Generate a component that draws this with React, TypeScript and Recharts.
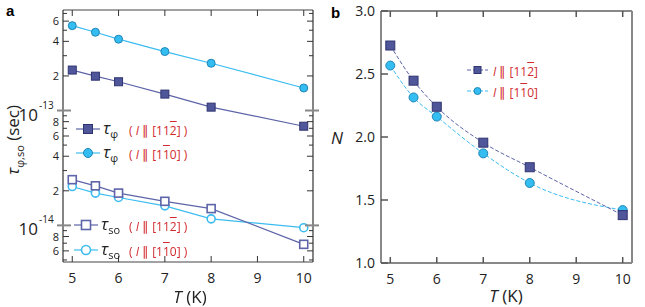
import { LineChart, Line, XAxis, YAxis } from 'recharts'

const T = [5, 5.5, 6, 7, 8, 10]
const tauPhi112 = [2.25e-13, 1.99e-13, 1.78e-13, 1.39e-13, 1.07e-13, 7.3e-14]
const tauPhi110 = [5.48e-13, 4.8e-13, 4.18e-13, 3.26e-13, 2.58e-13, 1.57e-13]
const tauSo112 = [2.5e-14, 2.21e-14, 1.91e-14, 1.62e-14, 1.4e-14, 6.84e-15]
const tauSo110 = [2.18e-14, 1.91e-14, 1.75e-14, 1.48e-14, 1.14e-14, 9.55e-15]
const n112 = [2.726, 2.447, 2.24, 1.955, 1.76, 1.38]
const n110 = [2.567, 2.314, 2.162, 1.87, 1.635, 1.42]

const tTicks = [5, 6, 7, 8, 9, 10]
const nTicks = [1.0, 1.5, 2.0, 2.5, 3.0]
const logTicks = [
  5e-15, 6e-15, 7e-15, 8e-15, 9e-15,
  1e-14, 2e-14, 3e-14, 4e-14, 5e-14, 6e-14, 7e-14, 8e-14, 9e-14,
  1e-13, 2e-13, 3e-13, 4e-13, 5e-13, 6e-13, 7e-13,
]
const labelledMantissas = [2, 4, 6, 8]

const dataA = T.map((t, i) => ({
  t, phi112: tauPhi112[i], phi110: tauPhi110[i], so112: tauSo112[i], so110: tauSo110[i],
}))
const dataB = T.map((t, i) => ({ t, n112: n112[i], n110: n110[i] }))

const DARK = '#4f5699'
const DARK_EDGE = '#2f3470'
const DARK_LINE = '#5d64a8'
const LIGHT = '#34bdf0'
const LIGHT_EDGE = '#1f86b8'
const LIGHT_LINE = '#3cbcf0'
const RED = '#d22a2e'
const FONT = "'Liberation Sans Narrow', 'Open Sans', Arial, sans-serif"

const squareDot = (size: number, fill: string, stroke: string, sw = 1) => (p: any) => (
  <rect key={p.index} x={p.cx - size / 2} y={p.cy - size / 2} width={size} height={size}
    fill={fill} stroke={stroke} strokeWidth={sw} />
)
const circleDot = (r: number, fill: string, stroke: string, sw = 1) => (p: any) => (
  <circle key={p.index} cx={p.cx} cy={p.cy} r={r} fill={fill} stroke={stroke} strokeWidth={sw} />
)

function mantissa(v: number) {
  const e = Math.floor(Math.log10(v) + 1e-9)
  return { m: Math.round(v / Math.pow(10, e)), e }
}

// log axis ticks: inward minor ticks, long decade ticks, sparse labels
function LogTickLeft(props: any) {
  const { x, y, payload } = props
  const ax = x + 6
  const { m, e } = mantissa(payload.value)
  if (m === 1) {
    return (
      <g>
        <line x1={ax - 6} x2={ax + 8} y1={y} y2={y} stroke="#888" strokeWidth={2} />
        <text x={ax - 25} y={y + 10} textAnchor="end" fontSize={17} fontFamily={FONT} fill="#222">
          10
        </text>
        <text x={ax - 24} y={y - 2} textAnchor="start" fontSize={10} fontFamily={FONT} fill="#222">
          {e}
        </text>
      </g>
    )
  }
  const lab = labelledMantissas.includes(m)
  return (
    <g>
      <line x1={ax} x2={ax + (lab ? 6 : 4)} y1={y} y2={y} stroke="#333" strokeWidth={1} />
      {lab && (
        <text x={ax - 4} y={y + 4} textAnchor="end" fontSize={11} fontFamily={FONT} fill="#222">
          {m}
        </text>
      )}
    </g>
  )
}

function LogTickRight(props: any) {
  const { x, y, payload } = props
  const ax = x - 6
  const { m } = mantissa(payload.value)
  if (m === 1) {
    return <line x1={ax - 8} x2={ax + 6} y1={y} y2={y} stroke="#888" strokeWidth={2} />
  }
  const lab = labelledMantissas.includes(m)
  return <line x1={ax} x2={ax - (lab ? 6 : 4)} y1={y} y2={y} stroke="#333" strokeWidth={1} />
}

function BottomTick(props: any) {
  const { x, y, payload } = props
  const ay = y - 6
  return (
    <g>
      <line x1={x} x2={x} y1={ay} y2={ay - 6} stroke={props.tickColor || '#333'} strokeWidth={props.tw || 1} />
      <text x={x} y={ay + 21} textAnchor="middle" fontSize={14} fontFamily={FONT} fill="#222">
        {payload.value}
      </text>
    </g>
  )
}

function TopTick(props: any) {
  const { x, y } = props
  const ay = y + 6
  return <line x1={x} x2={x} y1={ay} y2={ay + 6} stroke={props.tickColor || '#333'} strokeWidth={props.tw || 1} />
}

function NTickLeft(props: any) {
  const { x, y, payload } = props
  const ax = x + 6
  return (
    <g>
      <line x1={ax} x2={ax + 7} y1={y} y2={y} stroke="#555" strokeWidth={1.5} />
      <text x={ax - 6} y={y + 5} textAnchor="end" fontSize={14} fontFamily={FONT} fill="#222">
        {payload.value.toFixed(1)}
      </text>
    </g>
  )
}

function NTickRight(props: any) {
  const { x, y } = props
  const ax = x - 6
  return <line x1={ax} x2={ax - 7} y1={y} y2={y} stroke="#555" strokeWidth={1.5} />
}

const Bar2 = () => <span style={{ textDecoration: 'overline' }}>2</span>
const Bar1 = () => <span style={{ textDecoration: 'overline' }}>1</span>

function Direction({ kind, paren }: { kind: '112' | '110'; paren: boolean }) {
  return (
    <span style={{ color: RED, fontFamily: FONT, fontSize: 12, whiteSpace: 'nowrap' }}>
      {paren ? '( ' : ''}
      <i>I</i> <span style={{ fontSize: 13 }}>∥</span> [{kind === '112' ? <>11<Bar2 /></> : <>1<Bar1 />0</>}]
      {paren ? ' )' : ''}
    </span>
  )
}

function LegendRow(props: {
  left: number; top: number; lineW: number; color: string; marker: React.ReactNode;
  sub?: string; kind: '112' | '110'; paren: boolean; dashed?: boolean; gap: number
}) {
  const { left, top, lineW, color, marker, sub, kind, paren, dashed, gap } = props
  return (
    <div style={{ position: 'absolute', left, top: top - 11, height: 22, display: 'flex', alignItems: 'center' }}>
      <svg width={lineW} height={22} style={{ display: 'block' }}>
        <line x1={0} x2={lineW} y1={11} y2={11} stroke={color} strokeWidth={1.2}
          strokeDasharray={dashed ? '4 2' : undefined} />
        <g transform={`translate(${lineW / 2}, 11)`}>{marker}</g>
      </svg>
      {sub && (
        <span style={{ fontFamily: FONT, fontSize: 17, fontStyle: 'italic', marginLeft: 3, color: '#222', width: 22 }}>
          τ<sub style={{ fontSize: 11, fontStyle: 'normal' }}>{sub}</sub>
        </span>
      )}
      <span style={{ marginLeft: gap }}>
        <Direction kind={kind} paren={paren} />
      </span>
    </div>
  )
}

export default function App() {
  return (
    <div style={{ position: 'fixed', left: 0, top: 0, width: 645, height: 307, background: '#fff', fontFamily: FONT }}>
      {/* panel a */}
      <div style={{ position: 'absolute', left: 0, top: 0 }}>
        <LineChart width={330} height={307} data={dataA} margin={{ top: 9, right: 16, left: 13, bottom: 15 }}>
          <XAxis dataKey="t" type="number" domain={[4.8, 10.2]} ticks={tTicks} height={30}
            axisLine={{ stroke: '#444', strokeWidth: 1.2 }} tickLine={false} tickSize={0} tickMargin={6}
            tick={<BottomTick />} allowDataOverflow />
          <XAxis xAxisId="top" orientation="top" dataKey="t" type="number" domain={[4.8, 10.2]} ticks={tTicks}
            height={1} axisLine={{ stroke: '#444', strokeWidth: 1.2 }} tickLine={false} tickSize={0}
            tickMargin={6} tick={<TopTick />} allowDataOverflow />
          <YAxis type="number" scale="log" domain={[4.8e-15, 7.5e-13]} ticks={logTicks} width={50}
            axisLine={{ stroke: '#333', strokeWidth: 1.2 }} tickLine={false} tickSize={0} tickMargin={6}
            tick={<LogTickLeft />} interval={0} allowDataOverflow />
          <YAxis yAxisId="r" orientation="right" type="number" scale="log" domain={[4.8e-15, 7.5e-13]}
            ticks={logTicks} width={1} axisLine={{ stroke: '#333', strokeWidth: 1.2 }} tickLine={false}
            tickSize={0} tickMargin={6} tick={<LogTickRight />} interval={0} allowDataOverflow />
          <Line dataKey="phi110" stroke={LIGHT_LINE} strokeWidth={1.2} isAnimationActive={false}
            dot={circleDot(4, LIGHT, LIGHT_EDGE)} />
          <Line dataKey="phi112" stroke={DARK_LINE} strokeWidth={1.2} isAnimationActive={false}
            dot={squareDot(8, DARK, DARK_EDGE)} />
          <Line dataKey="so110" stroke={LIGHT_LINE} strokeWidth={1.2} isAnimationActive={false}
            dot={circleDot(4, '#fff', LIGHT_LINE, 1.6)} />
          <Line dataKey="so112" stroke={DARK_LINE} strokeWidth={1.2} isAnimationActive={false}
            dot={squareDot(8, '#fff', DARK_LINE, 1.6)} />
        </LineChart>
      </div>
      <div style={{ position: 'absolute', left: 6, top: 2, fontSize: 15, fontWeight: 'bold', fontFamily: 'Arial, sans-serif' }}>a</div>
      <div style={{
        position: 'absolute', left: 14, top: 140, transform: 'translate(-50%, -50%) rotate(-90deg)',
        whiteSpace: 'nowrap', fontSize: 17, color: '#222',
      }}>
        <i>τ</i><sub style={{ fontSize: 11 }}>φ,so</sub> (sec)
      </div>
      <div style={{ position: 'absolute', left: 190, top: 296, transform: 'translate(-50%, -50%)', fontSize: 17, whiteSpace: 'nowrap', color: '#222' }}>
        <i>T</i> (K)
      </div>
      <LegendRow left={76} top={129} lineW={24} color={DARK_LINE}
        marker={<rect x={-4.5} y={-4.5} width={9} height={9} fill={DARK} stroke={DARK_EDGE} />}
        sub="φ" kind="112" paren gap={4} />
      <LegendRow left={76} top={153} lineW={24} color={LIGHT_LINE}
        marker={<circle r={4.5} fill={LIGHT} stroke={LIGHT_EDGE} />}
        sub="φ" kind="110" paren gap={4} />
      <LegendRow left={74} top={225} lineW={24} color={DARK_LINE}
        marker={<rect x={-4.5} y={-4.5} width={9} height={9} fill="#fff" stroke={DARK_LINE} strokeWidth={1.6} />}
        sub="so" kind="112" paren gap={6} />
      <LegendRow left={74} top={250} lineW={24} color={LIGHT_LINE}
        marker={<circle r={4.5} fill="#fff" stroke={LIGHT_LINE} strokeWidth={1.6} />}
        sub="so" kind="110" paren gap={6} />

      {/* panel b */}
      <div style={{ position: 'absolute', left: 320, top: 0 }}>
        <LineChart width={330} height={307} data={dataB} margin={{ top: 10, right: 17, left: 21, bottom: 14 }}>
          <XAxis dataKey="t" type="number" domain={[4.8, 10.2]} ticks={tTicks} height={30}
            axisLine={{ stroke: '#888', strokeWidth: 2 }} tickLine={false} tickSize={0} tickMargin={6}
            tick={<BottomTick tickColor="#555" tw={1.5} />} allowDataOverflow />
          <XAxis xAxisId="top" orientation="top" dataKey="t" type="number" domain={[4.8, 10.2]} ticks={tTicks}
            height={1} axisLine={{ stroke: '#888', strokeWidth: 2 }} tickLine={false} tickSize={0}
            tickMargin={6} tick={<TopTick tickColor="#555" tw={1.5} />} allowDataOverflow />
          <YAxis type="number" domain={[1, 3]} ticks={nTicks} width={40}
            axisLine={{ stroke: '#888', strokeWidth: 2 }} tickLine={false} tickSize={0} tickMargin={6}
            tick={<NTickLeft />} interval={0} />
          <YAxis yAxisId="r" orientation="right" type="number" domain={[1, 3]} ticks={nTicks} width={1}
            axisLine={{ stroke: '#888', strokeWidth: 2 }} tickLine={false} tickSize={0} tickMargin={6}
            tick={<NTickRight />} interval={0} />
          <Line type="monotone" dataKey="n110" stroke={LIGHT_LINE} strokeWidth={1} strokeDasharray="4 2"
            isAnimationActive={false} dot={circleDot(4.5, LIGHT, LIGHT_EDGE)} />
          <Line type="monotone" dataKey="n112" stroke={DARK_LINE} strokeWidth={1} strokeDasharray="4 2"
            isAnimationActive={false} dot={squareDot(9, DARK, DARK_EDGE)} />
        </LineChart>
      </div>
      <div style={{ position: 'absolute', left: 331, top: 4, fontSize: 15, fontWeight: 'bold', fontFamily: 'Arial, sans-serif' }}>b</div>
      <div style={{ position: 'absolute', left: 337, top: 137, transform: 'translate(-50%, -50%)', fontSize: 17, fontStyle: 'italic', color: '#222' }}>N</div>
      <div style={{ position: 'absolute', left: 506, top: 295, transform: 'translate(-50%, -50%)', fontSize: 17, whiteSpace: 'nowrap', color: '#222' }}>
        <i>T</i> (K)
      </div>
      <LegendRow left={467} top={70} lineW={21} color={DARK_LINE} dashed
        marker={<rect x={-3.5} y={-3.5} width={7} height={7} fill={DARK} stroke={DARK_EDGE} />}
        kind="112" paren={false} gap={5} />
      <LegendRow left={467} top={91} lineW={21} color={LIGHT_LINE} dashed
        marker={<circle r={3.5} fill={LIGHT} stroke={LIGHT_EDGE} />}
        kind="110" paren={false} gap={5} />
    </div>
  )
}
